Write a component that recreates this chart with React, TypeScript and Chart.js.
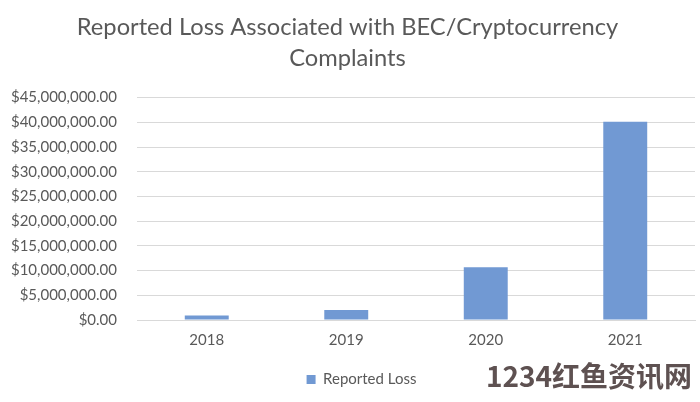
import React, { useEffect, useRef } from "react";
import { Chart, registerables } from "chart.js";

Chart.register(...registerables);

const categories = ["2018", "2019", "2020", "2021"];
const reportedLoss = [900000, 2000000, 10650000, 40100000];
const seriesLabel = "Reported Loss";
const titleLines = ["Reported Loss Associated with BEC/Cryptocurrency", "Complaints"];
const watermark = "1234红鱼资讯网";

const FONT = "Lato, 'Open Sans', sans-serif";
const GRAY = "#595959";

const shiftLegend = {
  id: "shiftLegend",
  afterLayout(chart: any) {
    if (chart.legend) {
      chart.legend.left += 14;
      chart.legend.right += 14;
    }
  },
};

export default function App() {
  const ref = useRef<HTMLCanvasElement | null>(null);

  useEffect(() => {
    document.body.style.margin = "0";
    const chart = new Chart(ref.current!, {
      type: "bar",
      data: {
        labels: categories,
        datasets: [
          {
            label: seriesLabel,
            data: reportedLoss,
            backgroundColor: "#7199d3",
            borderWidth: 0,
            barPercentage: 0.63,
            categoryPercentage: 0.5,
          },
        ],
      },
      options: {
        animation: false,
        responsive: false,
        maintainAspectRatio: false,
        layout: { padding: { left: 0, right: 5, top: 0, bottom: 5 } },
        plugins: {
          title: {
            display: true,
            text: titleLines,
            color: GRAY,
            font: { family: FONT, size: 23.7, weight: "normal", lineHeight: 1.3 },
            padding: { top: 12, bottom: 24 },
          },
          legend: {
            display: true,
            position: "bottom",
            labels: {
              color: GRAY,
              font: { family: FONT, size: 15 },
              boxWidth: 9,
              boxHeight: 9,
              padding: 12,
            },
          },
          tooltip: { enabled: false },
        },
        scales: {
          x: {
            grid: { display: false, drawTicks: false },
            border: { display: true, color: "#d9d9d9", width: 1 },
            ticks: { color: GRAY, font: { family: FONT, size: 15 }, padding: 11 },
          },
          y: {
            min: 0,
            max: 45000000,
            afterFit: (scale: any) => {
              scale.width = 137;
            },
            grid: { color: "#d9d9d9", drawTicks: false },
            border: { display: false },
            ticks: {
              stepSize: 5000000,
              color: GRAY,
              font: { family: FONT, size: 15 },
              padding: 20,
              callback: (v: any) =>
                "$" +
                Number(v).toLocaleString("en-US", {
                  minimumFractionDigits: 2,
                  maximumFractionDigits: 2,
                }),
            },
          },
        },
      },
      plugins: [shiftLegend],
    });
    return () => chart.destroy();
  }, []);

  return (
    <div style={{ position: "relative", width: 700, height: 402, background: "#fff" }}>
      <canvas ref={ref} width={700} height={402} />
      <div
        style={{
          position: "absolute",
          left: 486,
          top: 355,
          fontFamily: "'Noto Sans CJK SC', sans-serif",
          fontWeight: 700,
          fontSize: 28,
          color: "#5e5151",
          whiteSpace: "nowrap",
          lineHeight: "40px",
        }}
      >
        {watermark}
      </div>
    </div>
  );
}
